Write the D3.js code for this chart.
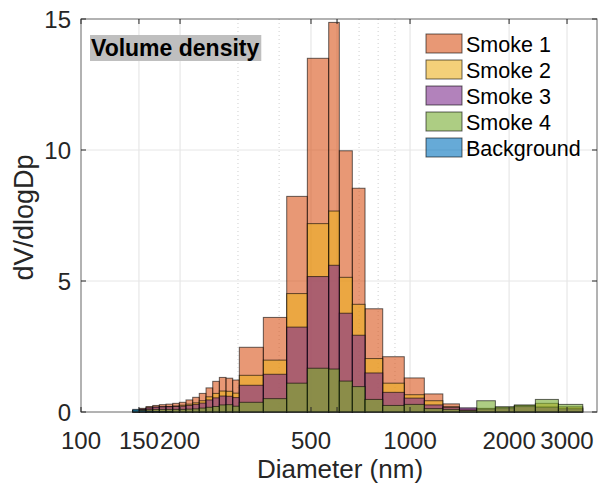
<!DOCTYPE html>
<html>
<head>
<meta charset="utf-8">
<script src="https://cdn.jsdelivr.net/npm/d3@7"></script>
<style>
  body { margin: 0; background: #fff; }
  text { font-family: Helvetica, Arial, "Liberation Sans", sans-serif; fill: #262626; }
</style>
</head>
<body>
<div id="chart"></div>
<script>
// bin edges (nm)
var binEdges = [143.6, 150.4, 157.6, 165.2, 173.0, 181.3, 190.0, 199.0, 208.5, 218.5, 228.8, 239.9,
  251.4, 263.3, 275.9, 289.1, 302.8, 358.2, 421.9, 487.4, 566.0, 609.6, 667.7, 729.8, 826.0,
  960.5, 1105, 1258, 1413, 1595, 1817, 2075, 2404, 2824, 3349];

var smoke1 = [0.06, 0.14, 0.21, 0.25, 0.28, 0.30, 0.33, 0.37, 0.46, 0.56, 0.71, 0.92, 1.17, 1.32, 1.29, 1.22,
  2.47, 3.61, 8.23, 13.5, 14.87, 9.97, 8.54, 3.94, 2.11, 1.30, 0.69, 0.31, 0.12, 0.14, 0.18, 0.25, 0.20, 0.15];
var smoke2 = [0.04, 0.09, 0.15, 0.18, 0.20, 0.21, 0.23, 0.26, 0.30, 0.35, 0.43, 0.58, 0.71, 0.80, 0.79, 0.72,
  1.40, 1.98, 4.52, 7.19, 7.67, 5.14, 4.11, 2.04, 1.10, 0.66, 0.43, 0.20, 0.08, 0.10, 0.12, 0.20, 0.33, 0.20];
var smoke3 = [0.05, 0.11, 0.16, 0.19, 0.20, 0.20, 0.21, 0.22, 0.25, 0.29, 0.34, 0.46, 0.54, 0.61, 0.60, 0.55,
  1.02, 1.44, 3.24, 5.17, 5.60, 3.77, 2.93, 1.49, 0.75, 0.53, 0.27, 0.18, 0.16, 0.12, 0.15, 0.22, 0.18, 0.12];
var smoke4 = [0.07, 0.08, 0.09, 0.10, 0.10, 0.10, 0.10, 0.10, 0.11, 0.12, 0.15, 0.18, 0.21, 0.27, 0.28, 0.22,
  0.37, 0.51, 1.10, 1.67, 1.64, 1.18, 0.97, 0.48, 0.25, 0.29, 0.13, 0.10, 0.06, 0.43, 0.20, 0.27, 0.48, 0.29];
var background = [0.10, 0.05, 0.03, 0.02, 0.01, 0.01, 0, 0, 0, 0, 0, 0, 0, 0, 0, 0,
  0, 0, 0, 0, 0, 0, 0, 0, 0, 0, 0, 0, 0, 0, 0, 0, 0, 0];

var seriesNames = ["Smoke 1", "Smoke 2", "Smoke 3", "Smoke 4", "Background"];
var seriesColors = ["#D95319", "#EDB120", "#7E2F8E", "#77AC30", "#0072BD"];
var seriesValues = [smoke1, smoke2, smoke3, smoke4, background];

var xTicks = [100, 150, 200, 500, 600, 1000, 2000, 3000];
var xTickLabels = ["100", "150", "200", "500", "", "1000", "2000", "3000"];
var xMinorGrid = [300, 400, 700, 800, 900];
var yTicks = [0, 5, 10, 15];

var W = 601, H = 484;
var pL = 81, pR = 597, pT = 19, pB = 412;
var axisColor = "#262626";

var svg = d3.select("#chart").append("svg")
  .attr("width", W).attr("height", H);

var x = d3.scaleLog().domain([100, 3700]).range([pL, pR]);
var y = d3.scaleLinear().domain([0, 15]).range([pB, pT]);

// grid
var grid = svg.append("g");
grid.selectAll("line.vmaj").data(xTicks.slice(1)).enter().append("line")
  .attr("x1", d => x(d)).attr("x2", d => x(d))
  .attr("y1", pT).attr("y2", pB)
  .attr("stroke", "#e2e2e2").attr("stroke-width", 1);
grid.selectAll("line.vmin").data(xMinorGrid).enter().append("line")
  .attr("x1", d => x(d)).attr("x2", d => x(d))
  .attr("y1", pT).attr("y2", pB)
  .attr("stroke", "#cfcfcf").attr("stroke-width", 1)
  .attr("stroke-dasharray", "1,3");
grid.selectAll("line.h").data(yTicks.slice(1, 3)).enter().append("line")
  .attr("x1", pL).attr("x2", pR)
  .attr("y1", d => y(d)).attr("y2", d => y(d))
  .attr("stroke", "#e6e6e6").attr("stroke-width", 1);

// bars, each series drawn over the previous one
seriesValues.forEach(function (vals, k) {
  var bins = vals.map(function (v, i) { return { x0: binEdges[i], x1: binEdges[i + 1], v: v }; })
    .filter(d => d.v > 0);
  svg.append("g").selectAll("rect").data(bins).enter().append("rect")
    .attr("x", d => x(d.x0))
    .attr("width", d => x(d.x1) - x(d.x0))
    .attr("y", d => y(d.v))
    .attr("height", d => y(0) - y(d.v))
    .attr("fill", seriesColors[k])
    .attr("fill-opacity", 0.6)
    .attr("stroke", "#000")
    .attr("stroke-opacity", 0.6)
    .attr("stroke-width", 1);
});

// axes box and ticks
svg.append("rect")
  .attr("x", pL).attr("y", pT)
  .attr("width", pR - pL).attr("height", pB - pT)
  .attr("fill", "none").attr("stroke", axisColor).attr("stroke-opacity", 0.7).attr("stroke-width", 1);

var tickLen = 5;
svg.append("g").selectAll("line").data(xTicks).enter().append("line")
  .attr("x1", d => x(d)).attr("x2", d => x(d))
  .attr("y1", pT).attr("y2", pT + tickLen)
  .attr("stroke", axisColor);
svg.append("g").selectAll("line").data(xTicks).enter().append("line")
  .attr("x1", d => x(d)).attr("x2", d => x(d))
  .attr("y1", pB).attr("y2", pB - tickLen)
  .attr("stroke", axisColor);
svg.append("g").selectAll("line").data(yTicks).enter().append("line")
  .attr("x1", pL).attr("x2", pL + tickLen)
  .attr("y1", d => y(d)).attr("y2", d => y(d))
  .attr("stroke", axisColor);
svg.append("g").selectAll("line").data(yTicks).enter().append("line")
  .attr("x1", pR).attr("x2", pR - tickLen)
  .attr("y1", d => y(d)).attr("y2", d => y(d))
  .attr("stroke", axisColor);

// tick labels
svg.append("g").selectAll("text").data(xTicks).enter().append("text")
  .attr("x", d => x(d)).attr("y", pB + 37)
  .attr("text-anchor", "middle")
  .style("font-size", "24px")
  .text((d, i) => xTickLabels[i]);
svg.append("g").selectAll("text").data(yTicks).enter().append("text")
  .attr("x", pL - 10).attr("y", d => y(d) + 9)
  .attr("text-anchor", "end")
  .style("font-size", "24px")
  .text(d => d);

// axis titles
svg.append("text")
  .attr("x", (pL + pR) / 2 + 1).attr("y", 478)
  .attr("text-anchor", "middle")
  .style("font-size", "26px")
  .text("Diameter (nm)");
svg.append("text")
  .attr("transform", "translate(33," + ((pT + pB) / 2 + 2) + ") rotate(-90)")
  .attr("text-anchor", "middle")
  .style("font-size", "27px")
  .text("dV/dlogDp");

// title box
var titleBox = svg.append("rect")
  .attr("x", 90).attr("y", 35)
  .attr("height", 26)
  .attr("fill", "#bfbfbf");
var titleText = svg.append("text")
  .attr("x", 91).attr("y", 56)
  .style("font-size", "23px").style("font-weight", "bold")
  .style("fill", "#000")
  .text("Volume density");
titleBox.attr("width", titleText.node().getComputedTextLength() + 3);

// legend
var legend = svg.append("g");
var rows = legend.selectAll("g").data(seriesNames).enter().append("g")
  .attr("transform", (d, i) => "translate(426," + (34 + i * 26) + ")");
rows.append("rect")
  .attr("width", 36).attr("height", 19)
  .attr("fill", (d, i) => seriesColors[i])
  .attr("fill-opacity", 0.6)
  .attr("stroke", "#000").attr("stroke-opacity", 0.6);
rows.append("text")
  .attr("x", 40).attr("y", 18)
  .style("font-size", "21.5px")
  .style("fill", "#000")
  .text(d => d);
</script>
</body>
</html>
